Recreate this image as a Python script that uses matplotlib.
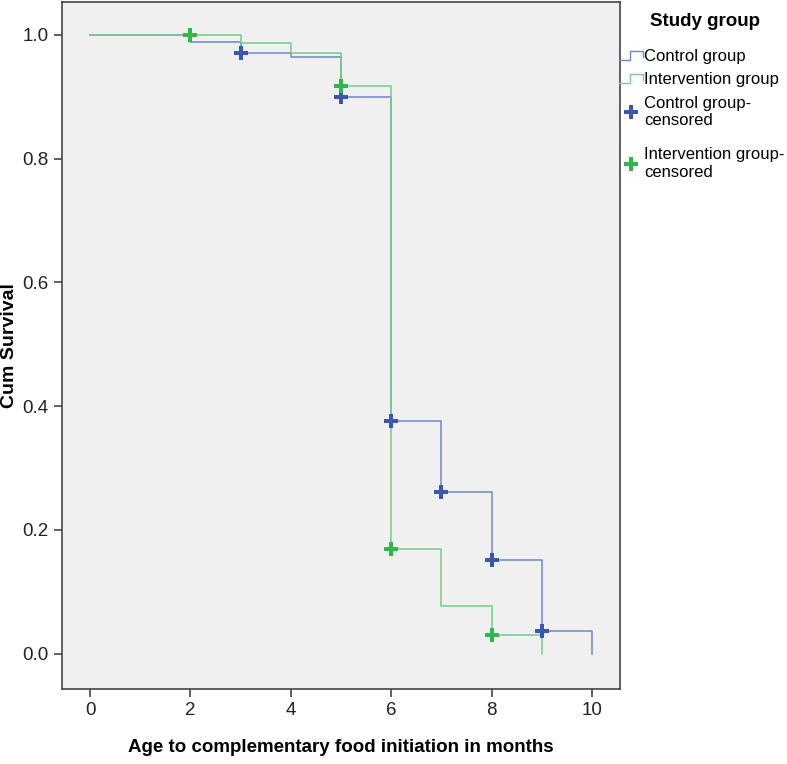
import matplotlib
matplotlib.use("Agg")
import matplotlib.pyplot as plt
from matplotlib.legend_handler import HandlerBase
from matplotlib.lines import Line2D

plt.rcParams['font.family'] = ['Liberation Sans', 'DejaVu Sans']

# Data
control_t = [0, 2, 3, 4, 5, 6, 7, 8, 9, 10]
control_s = [1.0, 0.989, 0.971, 0.964, 0.899, 0.376, 0.261, 0.152, 0.037, 0.0]
interv_t = [0, 3, 4, 5, 6, 7, 8, 9]
interv_s = [1.0, 0.986, 0.970, 0.918, 0.169, 0.077, 0.030, 0.0]
control_cens_t = [3, 5, 6, 7, 8, 9]
control_cens_s = [0.971, 0.899, 0.376, 0.261, 0.152, 0.037]
interv_cens_t = [2, 5, 6, 8]
interv_cens_s = [1.0, 0.918, 0.169, 0.030]
xticks = [0, 2, 4, 6, 8, 10]
yticks = [0.0, 0.2, 0.4, 0.6, 0.8, 1.0]

blue_line = '#6f86cc'
blue_mark = '#3b55b3'
green_line = '#72cf86'
green_mark = '#2db84a'

fig = plt.figure(figsize=(7.87, 7.64), dpi=100)
ax = fig.add_axes([0.0788, 0.0982, 0.709, 0.8992])
ax.set_facecolor('#f0f0f0')

ax.step(control_t, control_s, where='post', color=blue_line, lw=1.1, label='Control group')
ax.step(interv_t, interv_s, where='post', color=green_line, lw=1.1, label='Intervention group')
ax.plot(control_cens_t, control_cens_s, linestyle='none', marker='P', ms=10.5, mew=0,
        color=blue_mark, label='Control group-\ncensored')
ax.plot(interv_cens_t, interv_cens_s, linestyle='none', marker='P', ms=10.5, mew=0,
        color=green_mark, label='Intervention group-\ncensored')

ax.set_xlim(-0.56, 10.56)
ax.set_ylim(-0.057, 1.053)
ax.set_xticks(xticks)
ax.set_xticklabels([str(v) for v in xticks])
ax.set_yticks(yticks)
ax.set_yticklabels([f'{v:.1f}' for v in yticks])
ax.tick_params(axis='both', labelsize=13.5, length=6, width=1.2, color='#444444', labelcolor='#222222')
for s in ax.spines.values():
    s.set_color('#444444')
    s.set_linewidth(1.2)

ax.set_xlabel('Age to complementary food initiation in months', fontsize=13.5, fontweight='bold', labelpad=14)
ax.set_ylabel('Cum Survival', fontsize=14, fontweight='bold')
ax.yaxis.set_label_coords(-0.079, 0.5)


class StepHandler(HandlerBase):
    def create_artists(self, legend, orig_handle, xdescent, ydescent, width, height, fontsize, trans):
        w, h = width, height
        xs = [-xdescent, -xdescent + 0.45 * w, -xdescent + 0.45 * w, -xdescent + w, -xdescent + w]
        ys = [-ydescent + 0.1 * h, -ydescent + 0.1 * h, -ydescent + 0.85 * h, -ydescent + 0.85 * h, -ydescent + 0.35 * h]
        ln = Line2D(xs, ys, color=orig_handle.get_color(), lw=1.0, transform=trans)
        return [ln]


fig.text(0.896, 0.972, 'Study group', fontsize=13.5, fontweight='bold', ha='center', va='center')

handles, labels = ax.get_legend_handles_labels()
handler_map = {handles[0]: StepHandler(), handles[1]: StepHandler()}
common = dict(frameon=False, fontsize=12, handlelength=1.4, handletextpad=0.1,
              labelspacing=0.5, borderaxespad=0.0, borderpad=0.0, loc='upper left')
leg1 = fig.legend(handles[:3], labels[:3], handler_map=handler_map,
                  bbox_to_anchor=(0.787, 0.936), **common)
leg2 = fig.legend(handles[3:], labels[3:], bbox_to_anchor=(0.787, 0.807), **common)

fig.savefig('out.png', dpi=100)
